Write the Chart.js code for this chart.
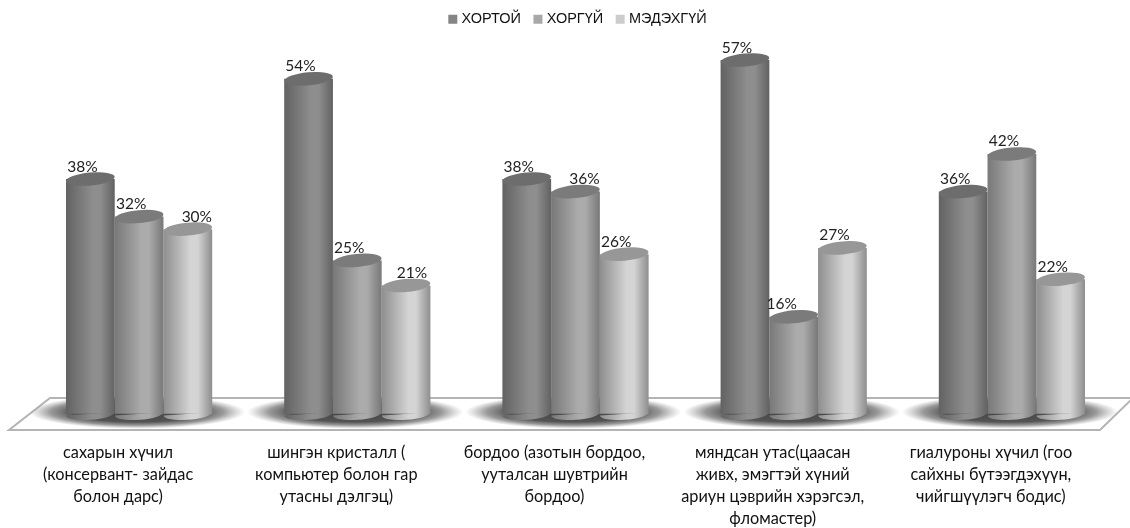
<!DOCTYPE html>
<html><head><meta charset="utf-8">
<style>html,body{margin:0;padding:0;background:#fff}#w{width:1130px;height:528px;position:relative}canvas{display:block}</style>
<script src="https://cdn.jsdelivr.net/npm/chart.js@4"></script>
</head><body><div id="w"><canvas id="c" width="1130" height="528"></canvas></div>
<script>
const categories = [
  ["сахарын хүчил","(консервант- зайдас","болон дарс)"],
  ["шингэн кристалл (","компьютер болон гар","утасны дэлгэц)"],
  ["бордоо (азотын бордоо,","ууталсан шувтрийн","бордоо)"],
  ["мяндсан утас(цаасан","живх, эмэгтэй хүний","ариун цэврийн хэрэгсэл,","фломастер)"],
  ["гиалуроны хүчил (гоо","сайхны бүтээгдэхүүн,","чийгшүүлэгч бодис)"]
];
const seriesNames = ["ХОРТОЙ","ХОРГҮЙ","МЭДЭХГҮЙ"];
const hortoi = [38,54,38,57,36];
const horgui = [32,25,36,16,42];
const medehgui = [30,21,26,27,22];
const edgeColors = ["#626262","#787878","#8e8e8e"];
const midColors = ["#8e8e8e","#ababab","#d4d4d4"];
const topColors = ["#6d6d6d","#7b7b7b","#979797"];
const legendColors = ["#858585","#a8a8a8","#cccccc"];
const labelNudge = {"2:0":17,"2:1":14,"1:2":17,"1:3":-4};

function makeGrad(g,l,w,ds){
  const gr=g.createLinearGradient(l,0,l+w,0);
  gr.addColorStop(0,edgeColors[ds]);
  gr.addColorStop(0.55,midColors[ds]);
  gr.addColorStop(0.7,midColors[ds]);
  gr.addColorStop(1,edgeColors[ds]);
  return gr;
}
const CAT=0.67;
function barFill(ctx){
  const ch=ctx.chart,x=ch.scales.x;
  if(!x||ctx.dataIndex===undefined) return midColors[ctx.datasetIndex||0];
  const band=x.width/categories.length*CAT,w=band/3;
  const l=x.getPixelForTick(ctx.dataIndex)-band/2+ctx.datasetIndex*w;
  return makeGrad(ch.ctx,l,w,ctx.datasetIndex);
}
const cyl3d={
  id:'cyl3d',
  afterLayout(ch){ch.legend.left+=3.5;ch.legend.right+=3.5;},
  beforeDatasetsDraw(ch){
    const g=ch.ctx,a=ch.chartArea,x=ch.scales.x;
    g.save();
    g.beginPath();
    g.moveTo(a.left+20,a.bottom-19);
    g.lineTo(a.right+12,a.bottom-19);
    g.lineTo(a.right-21,a.bottom+13);
    g.lineTo(a.left-21,a.bottom+13);
    g.closePath();
    g.fillStyle='#ffffff';
    g.fill();
    g.lineWidth=2;
    g.strokeStyle='#b4b4b4';
    g.stroke();
    g.clip();
    categories.forEach((c,i)=>{
      const cx=x.getPixelForTick(i);
      g.save();
      g.translate(cx-2,a.bottom-5);
      g.scale(1,0.155);
      const r=g.createRadialGradient(0,0,0,0,0,108);
      r.addColorStop(0,'rgba(55,55,55,0.95)');
      r.addColorStop(0.6,'rgba(65,65,65,0.9)');
      r.addColorStop(0.8,'rgba(85,85,85,0.6)');
      r.addColorStop(1,'rgba(120,120,120,0)');
      g.fillStyle=r;
      g.beginPath();g.arc(0,0,108,0,Math.PI*2);g.fill();
      g.restore();
    });
    g.restore();
  },
  afterDatasetsDraw(ch){
    const g=ch.ctx;
    g.save();
    [2,1,0].forEach(ds=>{
      ch.getDatasetMeta(ds).data.forEach(b=>{
        const w=b.width,l=b.x-w/2;
        g.fillStyle=makeGrad(g,l,w,ds);
        g.beginPath();
        g.ellipse(b.x,b.base,w/2,6,-0.07,0,Math.PI);
        g.fill();
        g.fillStyle=topColors[ds];
        g.beginPath();
        g.ellipse(b.x,b.y,w/2,6.5,-0.09,0,Math.PI*2);
        g.fill();
      });
    });
    g.font='15.5px Lato, "Open Sans", sans-serif';
    g.fillStyle='#222';
    g.textAlign='center';g.textBaseline='middle';
    [0,1,2].forEach(ds=>{
      ch.getDatasetMeta(ds).data.forEach((b,i)=>{
        const n=labelNudge[ds+":"+i]||0;
        g.fillText(ch.data.datasets[ds].data[i]+'%',b.x-8+n,b.y-12.5);
      });
    });
    g.restore();
  }
};
const mk=(label,data)=>({label,data,base:0.5,backgroundColor:barFill,borderWidth:0,categoryPercentage:CAT,barPercentage:1});
new Chart(document.getElementById('c'),{
  type:'bar',
  data:{labels:categories,datasets:[mk(seriesNames[0],hortoi),mk(seriesNames[1],horgui),mk(seriesNames[2],medehgui)]},
  plugins:[cyl3d],
  options:{
    responsive:false,animation:false,
    layout:{padding:{left:30,right:9,top:-3.5,bottom:0}},
    plugins:{
      tooltip:{enabled:false},
      legend:{
        display:true,position:'top',maxHeight:38.5,
        labels:{
          boxWidth:3,boxHeight:3,padding:15.5,color:'#111',
          font:{family:'"Liberation Sans",Arial,sans-serif',size:14.5},
          generateLabels:()=>seriesNames.map((t,i)=>({text:t,fillStyle:legendColors[i],strokeStyle:legendColors[i],lineWidth:6,hidden:false,datasetIndex:i,fontColor:'#111'}))
        }
      }
    },
    scales:{
      x:{
        grid:{display:false,drawTicks:false},border:{display:false},
        afterFit(s){s.height=111},
        ticks:{autoSkip:false,maxRotation:0,minRotation:0,padding:25,labelOffset:-21,color:'#111',
          font:{family:'Lato,"Open Sans",sans-serif',size:16.3,lineHeight:1.35}}
      },
      y:{display:false,min:0,max:61}
    }
  }
});
</script></body></html>
